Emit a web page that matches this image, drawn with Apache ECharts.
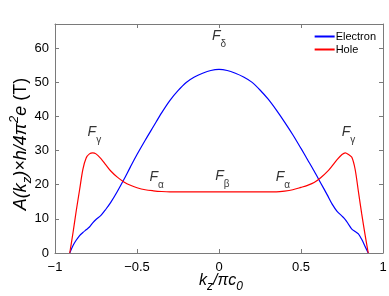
<!DOCTYPE html>
<html><head><meta charset="utf-8">
<script src="https://cdn.jsdelivr.net/npm/echarts@6/dist/echarts.min.js"></script>
<style>html,body{margin:0;padding:0;background:#fff}#c{width:389px;height:296px}</style>
</head><body><div id="c"></div>
<script>
const kz = [-0.91,-0.89,-0.87,-0.85,-0.83,-0.81,-0.79,-0.77,-0.75,-0.72,-0.69,-0.66,-0.62,-0.58,-0.54,-0.50,-0.45,-0.40,-0.35,-0.30,-0.25,-0.20,-0.15,-0.10,-0.05,0,
  0.05,0.10,0.15,0.20,0.25,0.30,0.35,0.40,0.45,0.50,0.54,0.58,0.62,0.66,0.69,0.72,0.75,0.77,0.79,0.81,0.83,0.85,0.87,0.89,0.91];
const electron = [0,2.2,3.8,5.1,6.0,6.8,7.6,8.8,9.8,11.0,12.8,14.8,18.0,21.5,25.2,28.8,33.0,37.0,41.0,44.6,47.5,49.9,51.5,52.6,53.4,53.7,
  53.4,52.6,51.5,50.0,47.7,45.0,41.8,38.3,34.6,30.6,27.3,24.0,20.5,17.0,14.3,12.2,10.8,9.8,8.4,7.0,6.3,5.6,4.0,2.0,0];
const hole = [0,6,12.5,18.5,24.5,27.8,29.0,29.3,29.0,27.6,25.8,24.0,22.2,20.8,19.8,19.1,18.5,18.2,18.0,17.9,17.9,17.9,17.9,17.9,17.9,17.9,
  17.9,17.9,17.9,17.9,17.9,17.9,17.9,18.1,18.5,19.2,19.8,20.6,22.0,23.8,25.5,27.3,28.8,29.3,28.8,28.0,24.5,18.0,11.5,5.5,0];
const annotations = [
  {x:0, y:62.6, main:'F', sub:'δ'},
  {x:-0.76, y:34.4, main:'F', sub:'γ'},
  {x:0.79, y:34.4, main:'F', sub:'γ'},
  {x:-0.38, y:21.3, main:'F', sub:'α'},
  {x:0.02, y:21.5, main:'F', sub:'β'},
  {x:0.39, y:21.3, main:'F', sub:'α'}
];
const xTitle = '{i|k}{sub|z}{i|/πc}{sub|0}';
const yTitle = '{i|A(k}{sub|z}{i|)×h/4π}{sup|2}{i|e} {n|(T)}';
const yMax = 67;

const font = 'Liberation Sans';
const chart = echarts.init(document.getElementById('c'));
const axisGray = '#7a7a7a';
const minus = v => String(v).replace('-', '−');
const mkRich = (fs, ss) => ({
  i:{fontFamily:font,fontSize:fs,fontStyle:'italic',fill:'#000',color:'#000',lineHeight:fs+8},
  n:{fontFamily:font,fontSize:fs,fill:'#000',color:'#000',lineHeight:fs+8},
  sub:{fontFamily:font,fontSize:ss,fontStyle:'italic',fill:'#000',color:'#000',verticalAlign:'bottom',lineHeight:fs+8},
  sup:{fontFamily:font,fontSize:ss,fontStyle:'italic',fill:'#000',color:'#000',verticalAlign:'top',lineHeight:fs+8}
});
chart.setOption({
  animation:false,
  grid:{left:55,right:6,top:24,bottom:43,outerBoundsMode:'none',containLabel:false},
  legend:{
    data:['Electron','Hole'], orient:'vertical', right:8, top:26, itemWidth:20, itemHeight:2, itemGap:2,
    textStyle:{fontFamily:font,fontSize:11,color:'#000',padding:[0,0,0,-4]},
    icon:'rect'
  },
  graphic:[
    {type:'text', x:221, y:281, silent:true,
      style:{text:xTitle, rich:mkRich(16,12), align:'center', verticalAlign:'middle', fill:'#000', font:'16px '+font}},
    {type:'text', x:21, y:144, rotation:Math.PI/2, silent:true,
      style:{text:yTitle, rich:mkRich(18,13), align:'center', verticalAlign:'middle', fill:'#000', font:'18px '+font}}
  ],
  xAxis:[{
    type:'value', min:-1, max:1, interval:0.5,
    axisLine:{onZero:false,lineStyle:{color:axisGray,width:1}},
    axisTick:{inside:true,length:4,lineStyle:{color:axisGray}},
    splitLine:{show:false},
    axisLabel:{formatter:minus,fontFamily:font,fontSize:13,color:'#000',margin:8}
  },{
    type:'value', min:-1, max:1, interval:0.5, position:'top',
    axisLine:{onZero:false,lineStyle:{color:axisGray,width:1}},
    axisTick:{inside:true,length:4,lineStyle:{color:axisGray}},
    axisLabel:{show:false}, splitLine:{show:false}
  }],
  yAxis:[{
    type:'value', min:0, max:yMax, interval:10,
    axisLine:{show:true,onZero:false,lineStyle:{color:axisGray,width:1}},
    axisTick:{show:true,inside:true,length:4,lineStyle:{color:axisGray}},
    splitLine:{show:false},
    axisLabel:{fontFamily:font,fontSize:13,color:'#000',margin:6,showMaxLabel:false}
  },{
    type:'value', min:0, max:yMax, interval:10, position:'right',
    axisLine:{show:true,onZero:false,lineStyle:{color:axisGray,width:1}},
    axisTick:{show:true,inside:true,length:4,lineStyle:{color:axisGray}},
    axisLabel:{show:false}, splitLine:{show:false}
  }],
  series:[
    {name:'Electron', type:'line', data:kz.map((x,i)=>[x,electron[i]]), showSymbol:false, smooth:0.3,
      lineStyle:{color:'#0000ff',width:1.2}, itemStyle:{color:'#0000ff'}},
    {name:'Hole', type:'line', data:kz.map((x,i)=>[x,hole[i]]), showSymbol:false, smooth:0.3,
      lineStyle:{color:'#ff0000',width:1.2}, itemStyle:{color:'#ff0000'}},
    {name:'labels', type:'scatter', symbolSize:0, silent:true,
      data:annotations.map(a=>({value:[a.x,a.y], label:{formatter:'{m|'+a.main+'}{s|'+a.sub+'}'}})),
      label:{show:true,position:'inside',
        rich:{m:{fontFamily:font,fontSize:14,fontStyle:'italic',color:'#000',lineHeight:20,verticalAlign:'top'},
              s:{fontFamily:font,fontSize:10,color:'#000',lineHeight:20,verticalAlign:'bottom'}}}}
  ]
});
</script></body></html>
